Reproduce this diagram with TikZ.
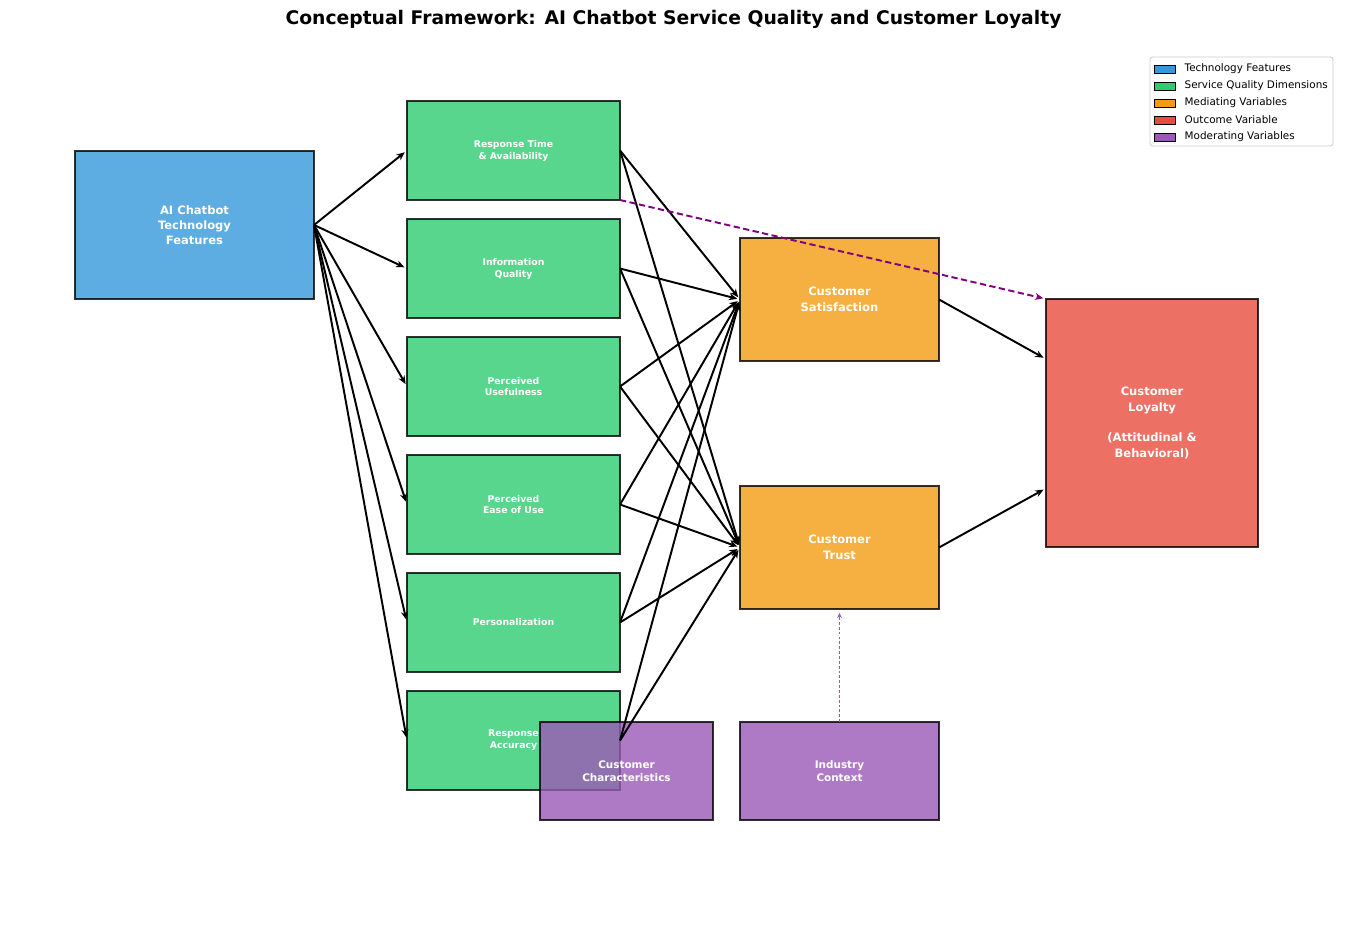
\documentclass[tikz,border=0pt]{standalone}
\usepackage{fontspec}
\setmainfont{DejaVu Sans}
\usetikzlibrary{arrows.meta, positioning, calc}

\definecolor{techblue}{HTML}{3498DB}
\definecolor{qualgreen}{HTML}{2ECC71}
\definecolor{mediorange}{HTML}{F39C12}
\definecolor{outred}{HTML}{E74C3C}
\definecolor{modpurple}{HTML}{9B59B6}
\definecolor{directpurple}{HTML}{800080}
\definecolor{legendgray}{HTML}{CCCCCC}

\tikzset{
  box/.style={rectangle, draw=black, line width=1.5pt, draw opacity=0.8, fill opacity=0.8, text opacity=1, text=white, align=center, inner sep=0pt, outer sep=0pt},
  tech/.style={box, fill=techblue, minimum width=172.1pt, minimum height=106.6pt, font=\bfseries\fontsize{8.3}{10.8}\selectfont},
  quality/.style={box, fill=qualgreen, minimum width=153.4pt, minimum height=71.3pt, font=\bfseries\fontsize{6.7}{8.6}\selectfont},
  mediator/.style={box, fill=mediorange, minimum width=143.3pt, minimum height=88.6pt, font=\bfseries\fontsize{8.3}{11.5}\selectfont},
  outcome/.style={box, fill=outred, minimum width=152.6pt, minimum height=178.6pt, font=\bfseries\fontsize{8.3}{11}\selectfont},
  moderator/.style={box, fill=modpurple, minimum height=70.6pt, font=\bfseries\fontsize{7.5}{9.4}\selectfont},
  arrow/.style={line width=1.4pt, -{Stealth[length=6pt, width=5pt]}, shorten >=2pt},
  dasharrow/.style={directpurple, line width=1.4pt, dash pattern=on 4.5pt off 2.5pt, -{Stealth[length=6pt, width=5pt]}, shorten >=2pt},
  modarrow/.style={modpurple, line width=1pt, dash pattern=on 2pt off 1.5pt, -{Stealth[length=3.5pt, width=3.5pt]}, shorten >=3pt},
  legendpatch/.style={rectangle, draw=black, line width=0.6pt, minimum width=15pt, minimum height=5.8pt, inner sep=0pt},
  legendtext/.style={font=\fontsize{7.5}{9}\selectfont, inner sep=0pt, anchor=west}
}

\begin{document}
\begin{tikzpicture}[x=0.72pt, y=-0.72pt]
    \useasboundingbox (0,0) rectangle (1347,930);

    % 1. Title
    \node[font=\bfseries\fontsize{13.5}{16}\selectfont] (title) at (673.5,19) {Conceptual Framework: AI Chatbot Service Quality and Customer Loyalty};

    % 2. Technology features
    \node[tech] (tech) at (194.5,225) {AI Chatbot\\Technology\\Features};

    % 3. Service quality dimensions
    \node[quality] (sq1) at (513.5,150.5) {Response Time\\\& Availability};
    \node[quality] (sq2) at (513.5,268.5) {Information\\Quality};
    \node[quality] (sq3) at (513.5,386.5) {Perceived\\Usefulness};
    \node[quality] (sq4) at (513.5,504.5) {Perceived\\Ease of Use};
    \node[quality] (sq5) at (513.5,622.5) {Personalization};
    \node[quality] (sq6) at (513.5,740.5) {Response\\Accuracy};

    % 4. Mediating and outcome variables
    \node[mediator] (sat) at (839.5,299.5) {Customer\\Satisfaction};
    \node[mediator] (trust) at (839.5,547.5) {Customer\\Trust};
    \node[outcome] (loyalty) at (1152,423) {Customer\\Loyalty\\[11pt](Attitudinal \&\\Behavioral)};

    % 5. Moderating variables
    \node[moderator, minimum width=124.6pt] (custchar) at (626.5,771) {Customer\\Characteristics};
    \node[moderator, minimum width=143.3pt] (industry) at (839.5,771) {Industry\\Context};

    % 6. Paths
    \foreach \i in {1,...,6} {
        \draw[arrow] (tech.east) -- (sq\i.west);
        \draw[arrow] (sq\i.east) -- (sat.west);
        \draw[arrow] (sq\i.east) -- (trust.west);
    }
    \draw[arrow] (sat.east) -- ([yshift=46pt]loyalty.west);
    \draw[arrow] (trust.east) -- ([yshift=-47pt]loyalty.west);
    \draw[dasharrow] (sq1.south east) -- (loyalty.north west);
    \draw[modarrow] (industry.north) -- (trust.south);

    % 7. Legend
    \node[draw=legendgray, fill=white, rounded corners=2pt, line width=0.6pt, minimum width=131.8pt, minimum height=64.1pt, inner sep=0pt] (legend) at (1241.5,101.5) {};
    \foreach \i/\col/\lab in {
        1/techblue/Technology Features,
        2/qualgreen/Service Quality Dimensions,
        3/mediorange/Mediating Variables,
        4/outred/Outcome Variable,
        5/modpurple/Moderating Variables
    } {
        \node[legendpatch, fill=\col] (lp\i) at (1164.5,{52+17*\i}) {};
        \node[legendtext, right=6.5pt of lp\i] (lt\i) {\lab};
    }

\end{tikzpicture}
\end{document}
